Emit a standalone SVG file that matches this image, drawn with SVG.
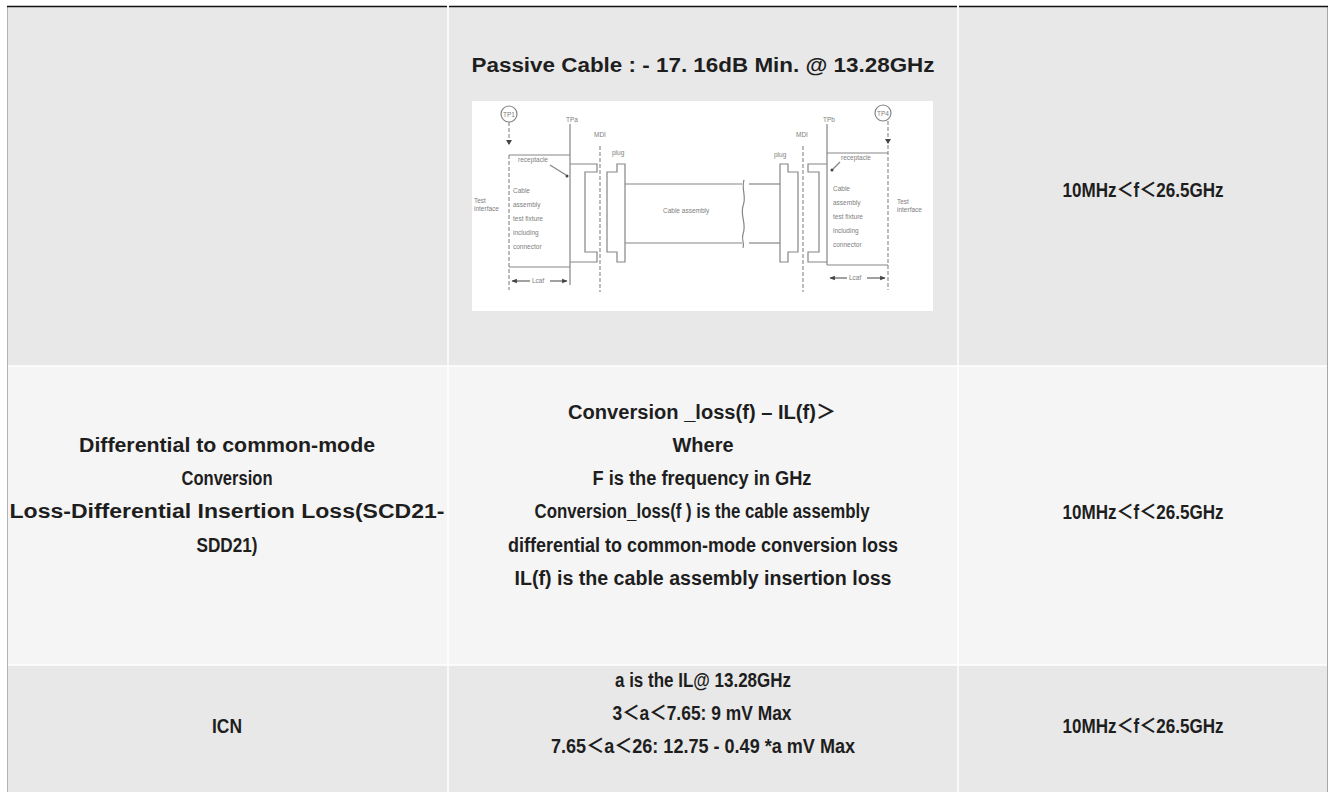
<svg xmlns="http://www.w3.org/2000/svg" width="1330" height="792" viewBox="0 0 1330 792">
<style>
.t{font-family:"Liberation Sans","Noto Sans CJK SC",sans-serif;font-weight:bold;font-size:20px;fill:#1e1e1e;text-anchor:middle}
.f{font-family:"Liberation Sans",sans-serif;font-size:6.5px;fill:#7e7e7e}
.fl{fill:none;stroke:#858585;stroke-width:1.2}
.fd{fill:none;stroke:#858585;stroke-width:1.1;stroke-dasharray:4 2}
.grid{stroke:#ffffff;stroke-width:1.5}
</style>
<defs>
<marker id="ah" viewBox="0 0 10 10" refX="9" refY="5" markerWidth="4.5" markerHeight="4.5" orient="auto-start-reverse">
<path d="M0,1 L10,5 L0,9 z" fill="#444"/>
</marker>
</defs>
<rect width="1330" height="792" fill="#ffffff"/>
<g id="table">
<rect x="7" y="6" width="1320" height="360" fill="#e8e8e8"/>
<rect x="7" y="366" width="1320" height="299" fill="#f5f5f5"/>
<rect x="7" y="665" width="1320" height="127" fill="#e8e8e8"/>
<line class="grid" x1="448" y1="6" x2="448" y2="792"/>
<line class="grid" x1="958" y1="6" x2="958" y2="792"/>
<line class="grid" x1="7" y1="366" x2="1327" y2="366"/>
<line class="grid" x1="7" y1="665" x2="1327" y2="665"/>
<line x1="7.5" y1="6" x2="7.5" y2="792" stroke="#b4b4b4" stroke-width="1"/>
<line x1="1327.5" y1="6" x2="1327.5" y2="792" stroke="#a8a8a8" stroke-width="1"/>
<line x1="7" y1="6.5" x2="447" y2="6.5" stroke="#111" stroke-width="1.3"/>
<line x1="449" y1="6.5" x2="957" y2="6.5" stroke="#111" stroke-width="1.3"/>
<line x1="959" y1="6.5" x2="1328" y2="6.5" stroke="#111" stroke-width="1.3"/>
</g>
<g id="row1-mid">
<text class="t" x="703" y="72" textLength="463" lengthAdjust="spacingAndGlyphs">Passive Cable : - 17. 16dB Min. @ 13.28GHz</text>
</g>
<g id="row1-right">
<text class="t" x="1143" y="197" textLength="161" lengthAdjust="spacingAndGlyphs">10MHz＜f＜26.5GHz</text>
</g>
<g id="figure">
<rect x="472" y="101" width="461" height="210" fill="#ffffff"/>
<circle cx="509" cy="114" r="8" class="fl"/>
<text class="f" x="509" y="116.5" text-anchor="middle" font-size="6">TP1</text>
<line class="fd" x1="509" y1="122" x2="509" y2="144"/>
<path d="M506,140 L512,140 L509,145 z" fill="#444"/>
<line class="fd" x1="509" y1="155" x2="509" y2="290"/>
<line class="fl" x1="509" y1="155" x2="570" y2="155"/>
<line class="fl" x1="509" y1="267" x2="570" y2="267"/>
<line class="fl" x1="570" y1="124" x2="570" y2="285"/>
<text class="f" x="566" y="122" font-size="8">TPa</text>
<text class="f" x="518" y="162">receptacle</text>
<line class="fl" x1="550" y1="165" x2="566" y2="175" stroke-width="0.7"/>
<circle cx="567" cy="176" r="1.5" fill="#444"/>
<text class="f" x="513" y="193">Cable</text>
<text class="f" x="513" y="207">assembly</text>
<text class="f" x="513" y="221">test fixture</text>
<text class="f" x="513" y="235">including</text>
<text class="f" x="513" y="249">connector</text>
<text class="f" x="474" y="203">Test</text>
<text class="f" x="474" y="211">interface</text>
<path class="fl" d="M570,164 H597 V172 H585 V252 H597 V262 H570"/>
<line class="fd" x1="600" y1="146" x2="600" y2="292"/>
<text class="f" x="594" y="137">MDI</text>
<path class="fl" d="M617,164 H625 V262 H617 V252 H607 V172 H617 Z"/>
<text class="f" x="612" y="155">plug</text>
<line class="fl" x1="625" y1="184" x2="742" y2="184"/>
<line class="fl" x1="625" y1="243" x2="742" y2="243"/>
<line class="fl" x1="749" y1="184" x2="780" y2="184"/>
<line class="fl" x1="749" y1="243" x2="780" y2="243"/>
<path class="fl" d="M744,180 C741,190 747,196 743,206 C740,216 747,224 743,234 C741,240 745,244 743,248" stroke-width="0.9"/>
<text class="f" x="663" y="213">Cable assembly</text>
<line x1="512" y1="281" x2="567" y2="281" stroke="#444" stroke-width="1.2" marker-start="url(#ah)" marker-end="url(#ah)"/>
<rect x="530" y="276" width="20" height="9" fill="#ffffff"/>
<text class="f" x="532" y="283">Lcaf</text>
<path class="fl" d="M788,164 H780 V262 H788 V252 H798 V172 H788 Z"/>
<text class="f" x="774" y="157">plug</text>
<line class="fd" x1="803" y1="146" x2="803" y2="292"/>
<text class="f" x="796" y="137">MDI</text>
<path class="fl" d="M827,164 H808 V172 H819 V252 H808 V262 H827"/>
<line class="fl" x1="827" y1="124" x2="827" y2="265"/>
<text class="f" x="823" y="122" font-size="8">TPb</text>
<line class="fl" x1="827" y1="153" x2="888" y2="153"/>
<line class="fl" x1="827" y1="265" x2="888" y2="265"/>
<line class="fd" x1="888" y1="121" x2="888" y2="290"/>
<circle cx="883" cy="113" r="8" class="fl"/>
<text class="f" x="883" y="115.5" text-anchor="middle" font-size="6">TP4</text>
<path d="M885,139 L891,139 L888,144 z" fill="#444"/>
<text class="f" x="841" y="160">receptacle</text>
<line class="fl" x1="840" y1="162" x2="833" y2="169" stroke-width="0.7"/>
<circle cx="832" cy="170" r="1.5" fill="#444"/>
<text class="f" x="833" y="191">Cable</text>
<text class="f" x="833" y="205">assembly</text>
<text class="f" x="833" y="219">test fixture</text>
<text class="f" x="833" y="233">including</text>
<text class="f" x="833" y="247">connector</text>
<text class="f" x="897" y="204">Test</text>
<text class="f" x="897" y="212">interface</text>
<line x1="830" y1="278" x2="885" y2="278" stroke="#444" stroke-width="1.2" marker-start="url(#ah)" marker-end="url(#ah)"/>
<rect x="847" y="273" width="20" height="9" fill="#ffffff"/>
<text class="f" x="849" y="280">Lcaf</text>
</g>
<g id="row2-left">
<text class="t" x="227" y="452" textLength="296" lengthAdjust="spacingAndGlyphs">Differential to common-mode</text>
<text class="t" x="227" y="485" textLength="91" lengthAdjust="spacingAndGlyphs">Conversion</text>
<text class="t" x="227" y="518" textLength="435" lengthAdjust="spacingAndGlyphs">Loss-Differential Insertion Loss(SCD21-</text>
<text class="t" x="227" y="552" textLength="61" lengthAdjust="spacingAndGlyphs">SDD21)</text>
</g>
<g id="row2-mid">
<text class="t" x="702" y="419" textLength="268" lengthAdjust="spacingAndGlyphs">Conversion _loss(f) – IL(f)＞</text>
<text class="t" x="703" y="452" textLength="61" lengthAdjust="spacingAndGlyphs">Where</text>
<text class="t" x="702" y="485" textLength="219" lengthAdjust="spacingAndGlyphs">F is the frequency in GHz</text>
<text class="t" x="702" y="518" textLength="335" lengthAdjust="spacingAndGlyphs">Conversion_loss(f ) is the cable assembly</text>
<text class="t" x="703" y="552" textLength="390" lengthAdjust="spacingAndGlyphs">differential to common-mode conversion loss</text>
<text class="t" x="703" y="585" textLength="377" lengthAdjust="spacingAndGlyphs">IL(f) is the cable assembly insertion loss</text>
</g>
<g id="row2-right">
<text class="t" x="1143" y="519" textLength="161" lengthAdjust="spacingAndGlyphs">10MHz＜f＜26.5GHz</text>
</g>
<g id="row3-left">
<text class="t" x="227" y="733" textLength="30" lengthAdjust="spacingAndGlyphs">ICN</text>
</g>
<g id="row3-mid">
<text class="t" x="703" y="687" textLength="176" lengthAdjust="spacingAndGlyphs">a is the IL@ 13.28GHz</text>
<text class="t" x="702" y="720" textLength="179" lengthAdjust="spacingAndGlyphs">3＜a＜7.65: 9 mV Max</text>
<text class="t" x="703" y="753" textLength="304" lengthAdjust="spacingAndGlyphs">7.65＜a＜26: 12.75 - 0.49 *a mV Max</text>
</g>
<g id="row3-right">
<text class="t" x="1143" y="733" textLength="161" lengthAdjust="spacingAndGlyphs">10MHz＜f＜26.5GHz</text>
</g>
</svg>
